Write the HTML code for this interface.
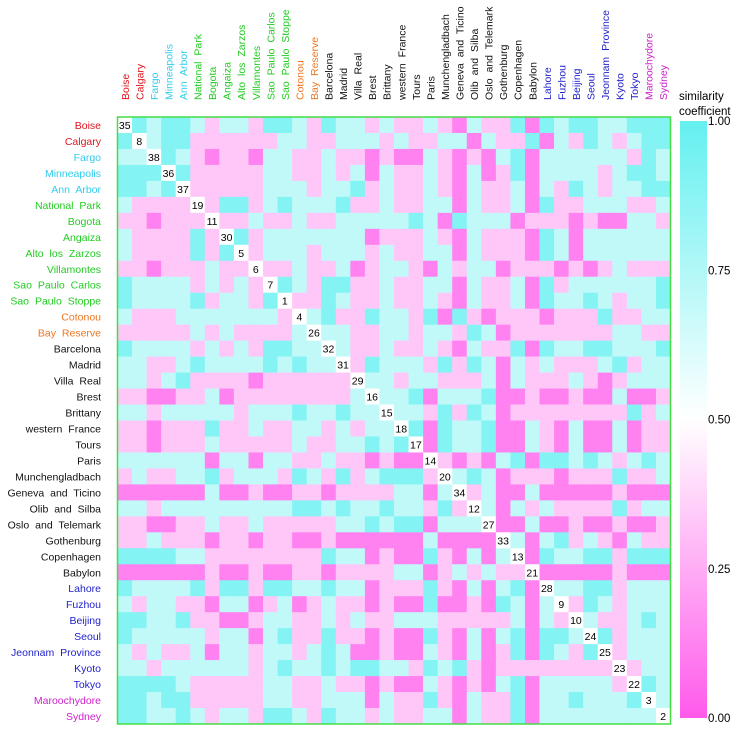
<!DOCTYPE html>
<html><head><meta charset="utf-8">
<style>
html,body{margin:0;padding:0;background:#fff;}
svg{display:block;font-family:"Liberation Sans",sans-serif;}
</style></head>
<body>
<svg id="chart" width="743" height="729" viewBox="0 0 743 729" xmlns="http://www.w3.org/2000/svg">
<defs>
<linearGradient id="cbar" x1="0" y1="1" x2="0" y2="0">
<stop offset="0" stop-color="rgb(255,90,235)"/>
<stop offset="0.5" stop-color="#ffffff"/>
<stop offset="1" stop-color="rgb(100,240,240)"/>
</linearGradient>
</defs>
<g id="cells"></g>
<g id="rowlabels"></g>
<g id="collabels"></g>
<rect x="117.5" y="117" width="553" height="607" fill="none" stroke="#44dd44" stroke-width="1.5"/>
<rect x="680" y="121" width="27" height="597" fill="url(#cbar)"/>
<text x="679" y="100" font-size="11.5">similarity</text>
<text x="679" y="115" font-size="11.5">coefficient</text>
<g id="cbticks"></g>
</svg>
<script>
const labels = ["Boise","Calgary","Fargo","Minneapolis","Ann Arbor","National Park","Bogota","Angaiza","Alto los Zarzos","Villamontes","Sao Paulo Carlos","Sao Paulo Stoppe","Cotonou","Bay Reserve","Barcelona","Madrid","Villa Real","Brest","Brittany","western France","Tours","Paris","Munchengladbach","Geneva and Ticino","Olib and Silba","Oslo and Telemark","Gothenburg","Copenhagen","Babylon","Lahore","Fuzhou","Beijing","Seoul","Jeonnam Province","Kyoto","Tokyo","Maroochydore","Sydney"];
const labelColors = ["#e0141e","#e0141e","#33ccee","#33ccee","#33ccee","#22cc22","#22cc22","#22cc22","#22cc22","#22cc22","#22cc22","#22cc22","#ee7722","#ee7722","#111","#111","#111","#111","#111","#111","#111","#111","#111","#111","#111","#111","#111","#111","#111","#2222cc","#2222cc","#2222cc","#2222cc","#2222cc","#2222cc","#2222cc","#cc22cc","#cc22cc"];
const diagonalNumbers = [35,8,38,36,37,19,11,30,5,6,7,1,4,26,32,31,29,16,15,18,17,14,20,34,12,27,33,13,21,28,9,10,24,25,23,22,3,2];
const colorbarTicks = [1.00,0.75,0.50,0.25,0.00];
const rowCodes = [
"DCcCCcpccpCCcpCccpcppcpmcppCmCcCCccCCC",
"CDcCCppppppccppcccpcppccmcppCmcpCcpcCCC",
"ccDCcpmppmccppcppmpmmcpmpmcCmccccccpCcC",
"CCCDCppppPccppcpcmcppcpmcmpCmccccpcCCc",
"CCcCDpppppcccpccCpcppcpmcppcmcpCcpccCC",
"cppppDpCCpcCcccCppcppccmcppcmCppcccppc",
"ppmpppDppcppcppcccccCcmCcccmpppmpmmccpp",
"cppppCpDCpcccccccmpppcpmcpppmCcmccccccc",
"cppppCpCDpcccpcccpcppccmcpppmCcmcccccc",
"ppmpppcppDppcppcmpccpmcpccmpppmpmpcppp",
"CccccpcpcpDCcpCCppcppccmcppcmCpccccccC",
"CccccCpccpCDppCcppcppcpmcppcmCccCcpccC",
"cpppcccccccpDcCppCccpCmCpmpppmpppCppcc",
"pppppcpcppppcDccppccpccpCcmpppppppccppp",
"CccccpcpcpCCccDcppcppcpmcppCmCccCCcccC",
"ccppcCccccCcCccDpCcccpCpCcmcpcpppcCpcc",
"ccpcCppppmppppppDccpccpppcmcpppcpmpccc",
"ppmmppcmppppppppcDccCmcccCmmpmmpmmcmmp",
"ccpcccccpcccCccCccDccpCpCcmppppppppCpcc",
"ppmpppCppcppccpcpccDCmCccCmmcpmcmmcmpp",
"ppmpppcpppppcppccCcCDmCccCmmcpmcmmcmpp",
"ccccccmccmccppcppmpmmDpmpmcCmCCcCcpcCc",
"pcppccCpcccpCcpCpcCCCpDcCcmpppmpppCppc",
"mmmmmmcmmpmmppmppppccmcDpcmmcmmmmmpmmm",
"ccpcccccccccCCcCccCccpCpDcmcpcppppCpcc",
"ppmmppcppcpppppccCcCCmcccDmmcmmpmmpmmp",
"ppcpppmppmppmmpmmmmmmcmmmmDcmcCpcpmcpp",
"CCCCccppppppppCccmpmmCpmcmcDmCccCCpCCC",
"mmmmmmpmmpmmppmppppccmpcpcppDmmmmmpmmm",
"CccccCpCCpCCccCccmpppCpmcmcCmDccCCpccc",
"cpccppmccmpcmpcppmpmmCmmpmCcmcDpCcpccc",
"CCccCppmmpccppcpcppcccpppppcmcpDcppcCc",
"CcccccpccmcCppCppmpmmCpmcmcCmCCcDCpccc",
"cpcppcmccpccpcCcmmpmmcpmcmpCmCcpCDpccc",
"ccpccccccpcCccCcCCccpCcCpmppppppppDpcc",
"CCCCcpppppccppcppmpmmcpmpmcCmcccccpDCc",
"CCcCCpppppccppcccmcppCpmcppCmccCcccCDc",
"CCccCcpccpCCcpCccpcppccmcppCmccccccccD"
];
const levelValues = {C:0.9, c:0.7, p:0.33, P:0.33, m:0.12, D:null};
</script>
<script>
const matrix = rowCodes.map(function(s, ri){
  const r = [];
  for (const ch of s) r.push(levelValues[ch]);
  while (r.length < 38) r.push(0.7);
  const out = r.slice(0,38);
  out[ri] = null;
  return out;
});

const NS = "http://www.w3.org/2000/svg";
const x0 = 117.5, y0 = 117, W = 553, H = 607;
const n = labels.length;
const cw = W / n, ch = H / n;
const xScale = i => x0 + i * cw;
const yScale = i => y0 + i * ch;
function colorOf(v){
  if (v >= 0.5){ const t = (v-0.5)/0.5; return `rgb(${Math.round(255-155*t)},${Math.round(255-15*t)},${Math.round(255-15*t)})`; }
  const t = (0.5-v)/0.5; return `rgb(255,${Math.round(255-165*t)},${Math.round(255-20*t)})`;
}
const cells = document.getElementById('cells');
for (let r = 0; r < n; r++){
  for (let c = 0; c < n; c++){
    const v = matrix[r][c];
    const rect = document.createElementNS(NS,'rect');
    rect.setAttribute('x', xScale(c)); rect.setAttribute('y', yScale(r));
    rect.setAttribute('width', cw+0.3); rect.setAttribute('height', ch+0.3);
    rect.setAttribute('fill', v === null ? '#ffffff' : colorOf(v));
    
    
    cells.appendChild(rect);
    if (r === c){
      const t = document.createElementNS(NS,'text');
      t.setAttribute('x', xScale(c)+cw/2); t.setAttribute('y', yScale(r)+ch/2+4);
      t.setAttribute('text-anchor','middle'); t.setAttribute('font-size','10.5');
      t.textContent = diagonalNumbers[r];
      
      
      cells.appendChild(t);
    }
  }
}
const rl = document.getElementById('rowlabels');
const cl = document.getElementById('collabels');
labels.forEach(function(lab,i){
  const t = document.createElementNS(NS,'text');
  t.setAttribute('x', 101); t.setAttribute('y', yScale(i)+ch/2+4);
  t.setAttribute('text-anchor','end'); t.setAttribute('font-size','10.5');
  t.setAttribute('word-spacing','3'); t.setAttribute('fill', labelColors[i]);
  t.textContent = lab;
  
  
  rl.appendChild(t);
  const u = document.createElementNS(NS,'text');
  const cx = xScale(i)+cw/2+4, cy = 100;
  u.setAttribute('x', cx); u.setAttribute('y', cy);
  u.setAttribute('transform', `rotate(-90 ${cx} ${cy})`);
  u.setAttribute('font-size','10.5'); u.setAttribute('word-spacing','3');
  u.setAttribute('fill', labelColors[i]);
  u.textContent = lab;
  
  
  cl.appendChild(u);
});
const cb = document.getElementById('cbticks');
colorbarTicks.forEach(function(v){
  const t = document.createElementNS(NS,'text');
  t.setAttribute('x', 708); t.setAttribute('y', 121 + (1-v)*597 + 4);
  t.setAttribute('font-size','11.5');
  t.textContent = v.toFixed(2);
  
  
  cb.appendChild(t);
});
</script>
</body></html>
